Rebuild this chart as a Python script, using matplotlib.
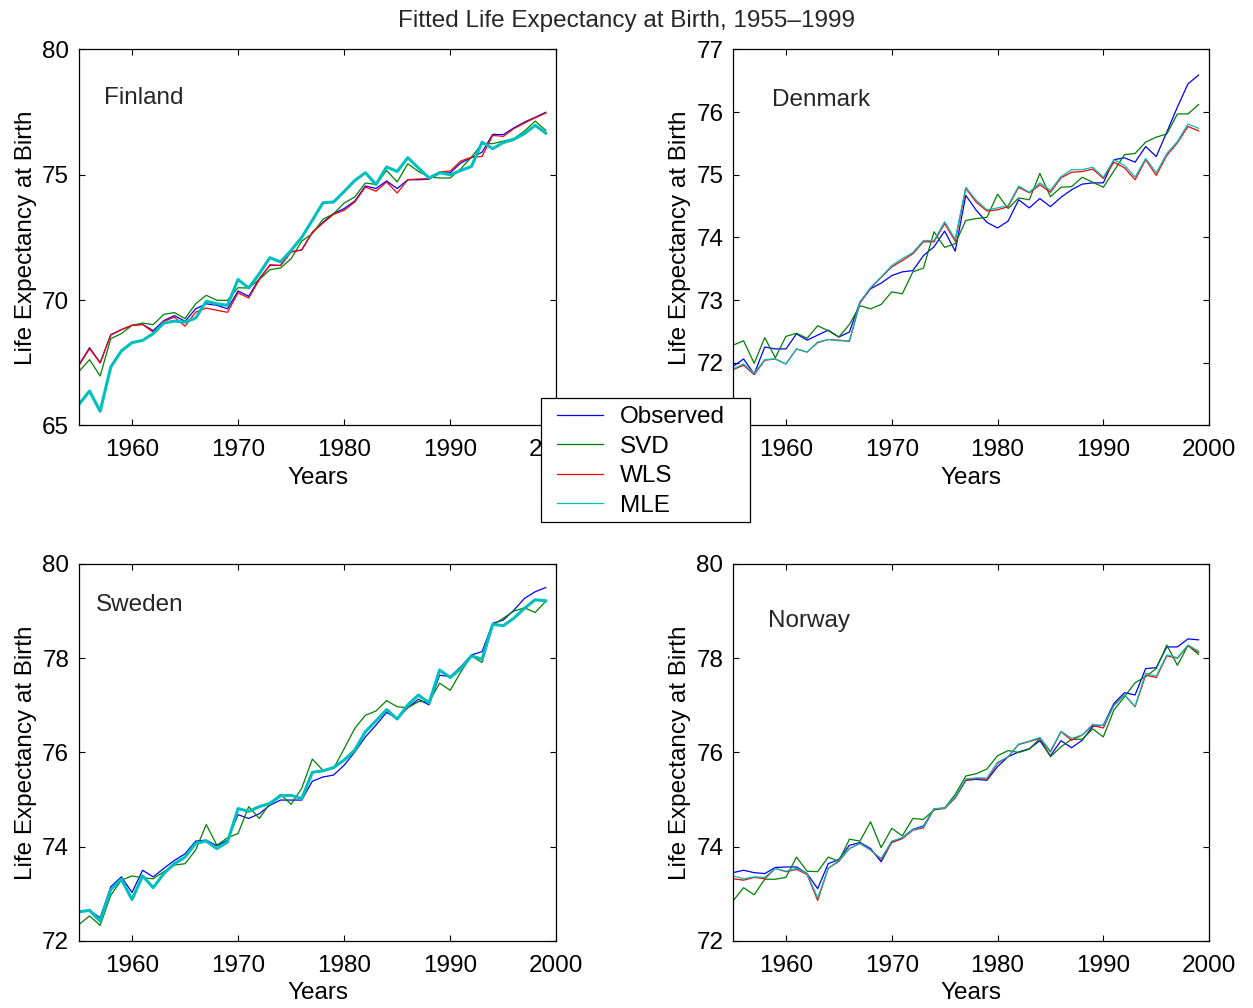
import matplotlib
matplotlib.use('Agg')
import matplotlib.pyplot as plt
from matplotlib.legend_handler import HandlerLine2D
from matplotlib.patches import Rectangle
import numpy as np

plt.rcParams['font.family'] = ['Liberation Sans', 'DejaVu Sans']

years = np.arange(1955, 2000)
methods = ['Observed', 'SVD', 'WLS', 'MLE']
colors = ['#0000ff', '#008000', '#ff0000', '#00bfbf']

# Finland
fin_obs = [67.42, 68.10, 67.50, 68.62, 68.82, 68.99, 69.03, 68.78, 69.18, 69.38,
           69.15, 69.65, 69.85, 69.79, 69.65, 70.36, 70.15, 70.85, 71.38, 71.38,
           71.93, 72.00, 72.70, 73.10, 73.45, 73.65, 73.95, 74.55, 74.45, 74.75,
           74.45, 74.80, 74.80, 74.82, 75.05, 75.08, 75.47, 75.68, 75.90, 76.61,
           76.60, 76.87, 77.10, 77.29, 77.49]
fin_svd = [67.15, 67.62, 66.97, 68.46, 68.66, 68.99, 69.08, 69.02, 69.43, 69.50,
           69.26, 69.85, 70.19, 69.99, 69.99, 70.49, 70.48, 70.82, 71.21, 71.28,
           71.65, 72.35, 72.65, 73.22, 73.44, 73.87, 74.11, 74.67, 74.61, 75.17,
           74.71, 75.44, 75.13, 74.91, 74.87, 74.87, 75.24, 75.70, 76.24, 76.24,
           76.34, 76.44, 76.74, 77.14, 76.77]
fin_wls = [67.39, 68.06, 67.49, 68.60, 68.82, 68.99, 69.02, 68.72, 69.15, 69.32,
           68.96, 69.52, 69.68, 69.59, 69.51, 70.29, 70.08, 70.81, 71.41, 71.38,
           71.91, 72.00, 72.70, 73.07, 73.42, 73.58, 73.91, 74.51, 74.34, 74.71,
           74.27, 74.80, 74.83, 74.84, 75.11, 75.15, 75.55, 75.70, 75.73, 76.57,
           76.53, 76.84, 77.06, 77.27, 77.46]
fin_mle = [65.84, 66.37, 65.56, 67.33, 67.97, 68.30, 68.39, 68.66, 69.08, 69.16,
           69.12, 69.28, 69.95, 69.85, 69.79, 70.82, 70.48, 71.05, 71.69, 71.52,
           71.98, 72.50, 73.18, 73.88, 73.91, 74.33, 74.77, 75.08, 74.61, 75.31,
           75.13, 75.68, 75.27, 74.87, 75.08, 75.00, 75.17, 75.33, 76.30, 76.04,
           76.28, 76.41, 76.64, 76.97, 76.66]

# Denmark
den_obs = [71.94, 72.06, 71.82, 72.25, 72.22, 72.22, 72.46, 72.36, 72.44, 72.52,
           72.41, 72.49, 72.97, 73.18, 73.27, 73.39, 73.45, 73.47, 73.71, 73.85,
           74.10, 73.78, 74.67, 74.43, 74.24, 74.15, 74.26, 74.60, 74.47, 74.62,
           74.49, 74.64, 74.76, 74.85, 74.87, 74.87, 75.24, 75.27, 75.20, 75.45,
           75.29, 75.68, 76.08, 76.45, 76.59]
den_svd = [72.28, 72.35, 71.99, 72.40, 72.08, 72.42, 72.47, 72.39, 72.59, 72.51,
           72.41, 72.61, 72.91, 72.86, 72.93, 73.13, 73.10, 73.45, 73.51, 74.09,
           73.84, 73.90, 74.27, 74.30, 74.32, 74.69, 74.46, 74.63, 74.60, 75.02,
           74.65, 74.80, 74.81, 74.96, 74.88, 74.80, 75.06, 75.32, 75.34, 75.52,
           75.60, 75.65, 75.97, 75.97, 76.12]
den_wls = [71.89, 71.96, 71.81, 72.04, 72.06, 71.98, 72.22, 72.17, 72.32, 72.37,
           72.36, 72.34, 72.95, 73.19, 73.36, 73.53, 73.63, 73.74, 73.93, 73.93,
           74.22, 73.94, 74.78, 74.56, 74.42, 74.44, 74.49, 74.80, 74.71, 74.84,
           74.72, 74.95, 75.04, 75.05, 75.09, 74.94, 75.20, 75.11, 74.92, 75.24,
           74.99, 75.31, 75.51, 75.77, 75.70]
den_mle = [71.90, 71.98, 71.83, 72.05, 72.06, 71.98, 72.22, 72.17, 72.33, 72.37,
           72.35, 72.35, 72.97, 73.20, 73.37, 73.55, 73.66, 73.76, 73.95, 73.95,
           74.25, 73.97, 74.80, 74.59, 74.44, 74.47, 74.51, 74.82, 74.72, 74.87,
           74.75, 74.97, 75.08, 75.08, 75.12, 74.96, 75.24, 75.15, 74.96, 75.26,
           75.03, 75.34, 75.53, 75.81, 75.74]

# Sweden
swe_obs = [72.63, 72.65, 72.49, 73.15, 73.36, 73.03, 73.50, 73.36, 73.54, 73.71,
           73.85, 74.12, 74.14, 74.02, 74.14, 74.68, 74.60, 74.70, 74.88, 74.99,
           74.99, 74.99, 75.39, 75.48, 75.52, 75.73, 76.01, 76.33, 76.58, 76.85,
           76.72, 76.95, 77.13, 77.01, 77.64, 77.61, 77.82, 78.07, 78.14, 78.74,
           78.81, 79.02, 79.27, 79.41, 79.50]
swe_svd = [72.35, 72.53, 72.33, 72.97, 73.29, 73.38, 73.34, 73.32, 73.47, 73.61,
           73.64, 73.93, 74.47, 74.03, 74.19, 74.28, 74.85, 74.60, 74.92, 75.11,
           74.90, 75.24, 75.86, 75.62, 75.66, 76.08, 76.51, 76.79, 76.88, 77.10,
           76.97, 76.95, 77.08, 77.08, 77.47, 77.32, 77.71, 78.05, 77.91, 78.70,
           78.85, 79.00, 79.07, 78.97, 79.21]
swe_wls = [72.61, 72.64, 72.42, 73.10, 73.30, 72.90, 73.38, 73.14, 73.42, 73.63,
           73.78, 74.06, 74.12, 73.97, 74.10, 74.80, 74.74, 74.84, 74.93, 75.07,
           75.08, 75.03, 75.57, 75.61, 75.67, 75.84, 76.06, 76.43, 76.67, 76.90,
           76.72, 77.00, 77.21, 77.06, 77.74, 77.60, 77.79, 78.04, 77.99, 78.71,
           78.70, 78.85, 79.05, 79.23, 79.22]
swe_mle = [72.62, 72.65, 72.42, 73.09, 73.31, 72.88, 73.38, 73.13, 73.43, 73.64,
           73.78, 74.07, 74.12, 73.96, 74.10, 74.81, 74.75, 74.85, 74.92, 75.08,
           75.09, 75.02, 75.58, 75.61, 75.68, 75.84, 76.05, 76.44, 76.67, 76.91,
           76.71, 77.01, 77.22, 77.05, 77.75, 77.59, 77.78, 78.05, 77.98, 78.72,
           78.69, 78.85, 79.06, 79.24, 79.22]

# Norway
nor_obs = [73.45, 73.50, 73.45, 73.43, 73.56, 73.57, 73.57, 73.43, 73.11, 73.64,
           73.73, 74.03, 74.09, 73.96, 73.68, 74.10, 74.19, 74.37, 74.44, 74.80,
           74.82, 75.04, 75.41, 75.43, 75.41, 75.70, 75.91, 76.01, 76.08, 76.25,
           75.93, 76.25, 76.10, 76.26, 76.55, 76.58, 77.04, 77.27, 77.22, 77.78,
           77.80, 78.24, 78.24, 78.41, 78.39]
nor_svd = [72.85, 73.13, 72.98, 73.31, 73.31, 73.35, 73.78, 73.48, 73.47, 73.78,
           73.69, 74.16, 74.12, 74.53, 73.98, 74.39, 74.23, 74.60, 74.58, 74.78,
           74.82, 75.11, 75.50, 75.55, 75.65, 75.93, 76.04, 76.00, 76.07, 76.30,
           75.91, 76.12, 76.28, 76.28, 76.50, 76.33, 76.90, 77.18, 77.48, 77.61,
           77.78, 78.28, 77.85, 78.27, 78.08]
nor_wls = [73.32, 73.29, 73.35, 73.32, 73.54, 73.47, 73.52, 73.41, 72.86, 73.54,
           73.69, 73.96, 74.07, 73.93, 73.73, 74.09, 74.17, 74.35, 74.40, 74.80,
           74.81, 75.04, 75.41, 75.45, 75.43, 75.77, 75.91, 76.17, 76.23, 76.30,
           76.01, 76.44, 76.26, 76.37, 76.57, 76.52, 77.01, 77.22, 76.97, 77.64,
           77.59, 78.05, 78.00, 78.27, 78.12]
nor_mle = [73.38, 73.32, 73.36, 73.35, 73.54, 73.48, 73.54, 73.43, 72.91, 73.54,
           73.71, 73.96, 74.07, 73.93, 73.75, 74.12, 74.19, 74.36, 74.42, 74.81,
           74.82, 75.06, 75.44, 75.46, 75.46, 75.79, 75.91, 76.18, 76.24, 76.32,
           76.03, 76.45, 76.30, 76.37, 76.60, 76.57, 76.99, 77.22, 76.98, 77.68,
           77.62, 78.07, 78.01, 78.28, 78.15]

panels = [
    dict(name='Finland', series=[fin_obs, fin_svd, fin_wls, fin_mle],
         ylim=(65, 80), yticks=[65, 70, 75, 80], text=(1957.4, 78.05),
         rect=[0.063, 0.578, 0.381, 0.373], mle_lw=2.2),
    dict(name='Denmark', series=[den_obs, den_svd, den_wls, den_mle],
         ylim=(71, 77), yticks=[71, 72, 73, 74, 75, 76, 77], text=(1958.7, 76.2),
         rect=[0.585, 0.578, 0.380, 0.373], mle_lw=0.9),
    dict(name='Sweden', series=[swe_obs, swe_svd, swe_wls, swe_mle],
         ylim=(72, 80), yticks=[72, 74, 76, 78, 80], text=(1956.6, 79.12),
         rect=[0.063, 0.0665, 0.381, 0.374], mle_lw=2.2),
    dict(name='Norway', series=[nor_obs, nor_svd, nor_wls, nor_mle],
         ylim=(72, 80), yticks=[72, 74, 76, 78, 80], text=(1958.3, 78.8),
         rect=[0.585, 0.0665, 0.380, 0.374], mle_lw=0.9),
]

fs = 17.5
fig = plt.figure(figsize=(12.53, 10.08), dpi=100, facecolor='w')

for p in panels:
    ax = fig.add_axes(p['rect'])
    for i, (vals, c) in enumerate(zip(p['series'], colors)):
        lw = p['mle_lw'] if i == 3 else 0.9
        ax.plot(years, vals, color=c, linewidth=lw, label=methods[i])
    ax.set_xlim(1955, 2000)
    ax.set_ylim(p['ylim'])
    ax.set_xticks([1960, 1970, 1980, 1990, 2000])
    ylabels = [str(t) for t in p['yticks']]
    if p['name'] == 'Denmark':
        ylabels[0] = ''   # sits under the legend box
    ax.set_yticks(p['yticks'], ylabels)
    ax.tick_params(direction='in', top=True, right=True, length=4,
                   width=0.8, labelsize=fs)
    ax.tick_params(axis='x', pad=10)
    ax.tick_params(axis='y', pad=7)
    for s in ax.spines.values():
        s.set_linewidth(0.9)
    ax.set_xlabel('Years', fontsize=fs, labelpad=4)
    ax.set_ylabel('Life Expectancy at Birth', fontsize=fs, labelpad=4)
    ax.text(p['text'][0], p['text'][1], p['name'], fontsize=fs,
            color='#262626', va='center', ha='left')

fig.suptitle('Fitted Life Expectancy at Birth, 1955\u20131999', fontsize=17.5,
             y=0.99, color='#262626')

# legend box between the panels, drawn over the axes
box = Rectangle((541 / 1253, 1 - 522 / 1008), 209 / 1253, 124 / 1008,
                transform=fig.transFigure, facecolor='white',
                edgecolor='black', linewidth=0.9, zorder=4)
fig.patches.append(box)

leg_h = [plt.Line2D([], [], color=c, linewidth=0.9) for c in colors]
leg = fig.legend(leg_h, methods, loc='upper left',
                 bbox_to_anchor=(557 / 1253, 1 - 406 / 1008),
                 fontsize=fs, frameon=False, borderpad=0, borderaxespad=0,
                 handlelength=1.9, handletextpad=0.68, labelspacing=0.31,
                 handler_map={plt.Line2D: HandlerLine2D(xpad=0)})
leg.set_zorder(5)

fig.savefig('out.png', dpi=100, facecolor='w')
